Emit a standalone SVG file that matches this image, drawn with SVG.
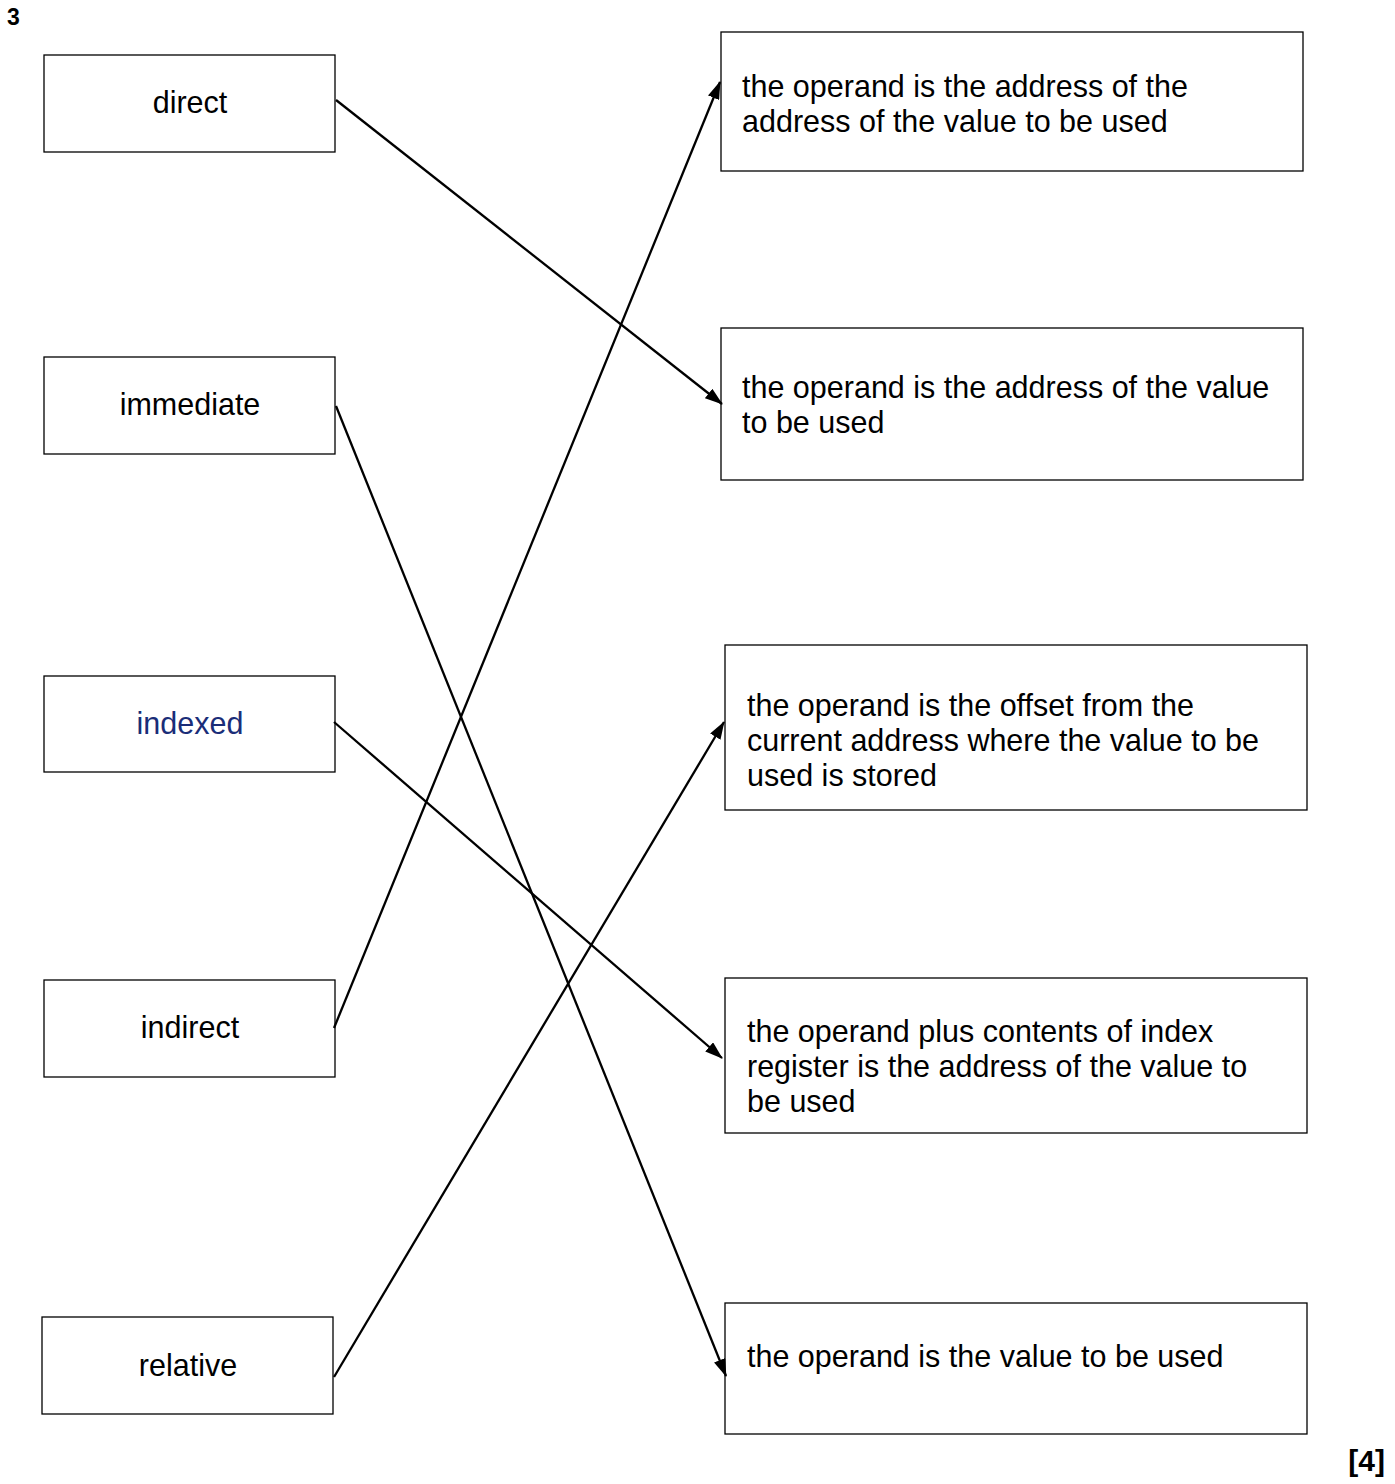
<svg xmlns="http://www.w3.org/2000/svg" width="1395" height="1484" viewBox="0 0 1395 1484">
<style>
.box{fill:#fff;stroke:#000;stroke-width:1.3}
.t{font-family:"Liberation Sans",Arial,sans-serif;font-size:30.5px;fill:#000}
.c{text-anchor:middle}
.con{stroke:#000;stroke-width:2.3;fill:none;marker-end:url(#ah)}
.b{font-family:"Liberation Sans",Arial,sans-serif;font-weight:bold;fill:#000}
</style>
<defs>
<marker id="ah" viewBox="0 0 18 12" refX="17" refY="6" markerWidth="18" markerHeight="12" orient="auto" markerUnits="userSpaceOnUse">
<path d="M0,0 L18,6 L0,12 z" fill="#000"/>
</marker>
</defs>
<rect width="1395" height="1484" fill="#fff"/>
<text class="b" x="7" y="25" font-size="23">3</text>
<text class="b" x="1385" y="1471" font-size="30" text-anchor="end">[4]</text>

<g id="n-direct"><rect class="box" x="44" y="55" width="291" height="97"/><text class="t c" x="190" y="113">direct</text></g>
<g id="n-immediate"><rect class="box" x="44" y="357" width="291" height="97"/><text class="t c" x="190" y="415">immediate</text></g>
<g id="n-indexed"><rect class="box" x="44" y="676" width="291" height="96"/><text class="t c" x="190" y="734" style="fill:#1a2d78">indexed</text></g>
<g id="n-indirect"><rect class="box" x="44" y="980" width="291" height="97"/><text class="t c" x="190" y="1038">indirect</text></g>
<g id="n-relative"><rect class="box" x="42" y="1317" width="291" height="97"/><text class="t c" x="188" y="1376">relative</text></g>

<g id="r-addr-addr"><rect class="box" x="721" y="32" width="582" height="139"/><text class="t" x="742" y="97">the operand is the address of the</text><text class="t" x="742" y="132">address of the value to be used</text></g>
<g id="r-addr"><rect class="box" x="721" y="328" width="582" height="152"/><text class="t" x="742" y="398">the operand is the address of the value</text><text class="t" x="742" y="433">to be used</text></g>
<g id="r-offset"><rect class="box" x="725" y="645" width="582" height="165"/><text class="t" x="747" y="716">the operand is the offset from the</text><text class="t" x="747" y="751">current address where the value to be</text><text class="t" x="747" y="786">used is stored</text></g>
<g id="r-index"><rect class="box" x="725" y="978" width="582" height="155"/><text class="t" x="747" y="1042">the operand plus contents of index</text><text class="t" x="747" y="1077">register is the address of the value to</text><text class="t" x="747" y="1112">be used</text></g>
<g id="r-value"><rect class="box" x="725" y="1303" width="582" height="131"/><text class="t" x="747" y="1367">the operand is the value to be used</text></g>

<g id="connectors">
<line class="con" x1="336" y1="100" x2="722" y2="404"/>
<line class="con" x1="336" y1="406" x2="726" y2="1376"/>
<line class="con" x1="334" y1="722" x2="722" y2="1058"/>
<line class="con" x1="334" y1="1028" x2="720" y2="82"/>
<line class="con" x1="334" y1="1377" x2="724" y2="722"/>
</g>
</svg>
